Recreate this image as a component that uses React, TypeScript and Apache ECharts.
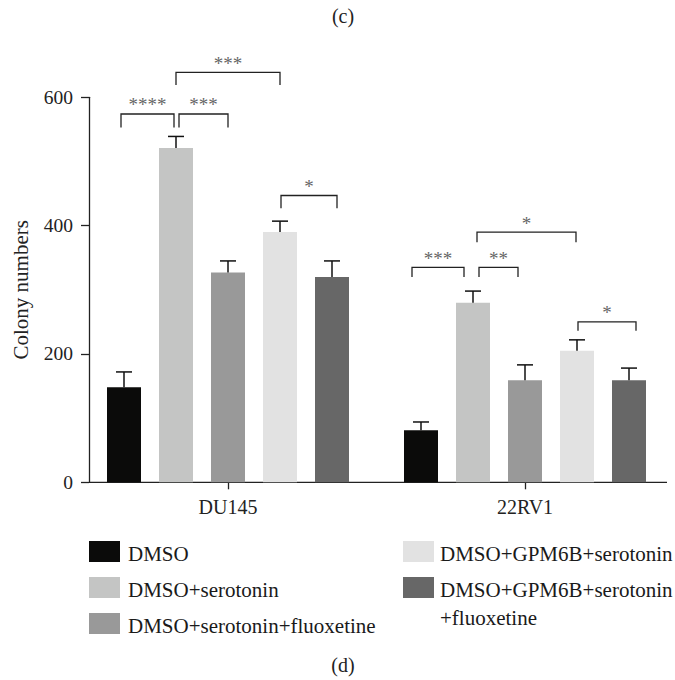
import React, { useEffect, useRef } from "react";
import * as echarts from "echarts";

// ---- data ----
const CATEGORIES = ["DU145", "22RV1"];
const GROUPS = [
  "DMSO",
  "DMSO+serotonin",
  "DMSO+serotonin+fluoxetine",
  "DMSO+GPM6B+serotonin",
  "DMSO+GPM6B+serotonin+fluoxetine",
];
const LEGEND_LABELS = [
  "DMSO",
  "DMSO+serotonin",
  "DMSO+serotonin+fluoxetine",
  "DMSO+GPM6B+serotonin",
  "DMSO+GPM6B+serotonin\n+fluoxetine",
];
// means per group: [DU145, 22RV1]
const MEAN_DMSO = [148, 81];
const MEAN_SER = [521, 280];
const MEAN_SER_FLX = [327, 159];
const MEAN_GPM = [390, 205];
const MEAN_GPM_FLX = [320, 159];
const MEANS = [MEAN_DMSO, MEAN_SER, MEAN_SER_FLX, MEAN_GPM, MEAN_GPM_FLX];
// upper error (SEM) per group: [DU145, 22RV1]
const SEM_DMSO = [24, 13];
const SEM_SER = [18, 18];
const SEM_SER_FLX = [18, 24];
const SEM_GPM = [17, 17];
const SEM_GPM_FLX = [25, 19];
const SEMS = [SEM_DMSO, SEM_SER, SEM_SER_FLX, SEM_GPM, SEM_GPM_FLX];
const Y_MIN = 0;
const Y_MAX = 600;
const Y_INTERVAL = 200;
// significance brackets: category, from-group, to-group, top value, leg-bottom value, label
const BRACKET_CAT = [0, 0, 0, 0, 1, 1, 1, 1];
const BRACKET_FROM = [0, 1, 1, 3, 0, 1, 1, 3];
const BRACKET_TO = [1, 2, 3, 4, 1, 2, 3, 4];
const BRACKET_TOP = [574, 574, 639, 447, 335, 335, 390, 250];
const BRACKET_BOTTOM = [553, 553, 619, 427, 320, 320, 374, 236];
const BRACKET_LABEL = ["****", "***", "***", "*", "***", "**", "*", "*"];

// ---- style ----
const COLORS = ["#0b0b0a", "#c4c5c4", "#999999", "#e2e2e2", "#676767"];
const FONT = "Liberation Serif, DejaVu Serif, serif";
const BAR_W = 34;
const BAR_GAP_PX = 18;
const STEP = BAR_W + BAR_GAP_PX;
const BRACKET_NUDGE = [
  [-3, -2],
  [3, 0],
  [0, 0],
  [1, 5],
  [-9, -9],
  [6, -7],
  [4, -1],
  [1, 7],
];

export default function App() {
  const ref = useRef<HTMLDivElement>(null);

  useEffect(() => {
    document.body.style.margin = "0";
    const chart = echarts.init(ref.current!, null, { renderer: "svg" });

    const barSeries = GROUPS.map((name, g) => ({
      name,
      type: "bar",
      data: MEANS[g],
      barWidth: BAR_W,
      barGap: (BAR_GAP_PX / BAR_W) * 100 + "%",
      itemStyle: { color: COLORS[g] },
      z: 2,
    }));

    const errSeries = GROUPS.map((name, g) => ({
      name: name + " SEM",
      type: "custom",
      z: 3,
      encode: { x: 0, y: [1, 2] },
      data: MEANS[g].map((m, ci) => [ci, m, m + SEMS[g][ci]]),
      renderItem: (params: any, api: any) => {
        const p0 = api.coord([api.value(0), api.value(1)]);
        const p1 = api.coord([api.value(0), api.value(2)]);
        const x = p0[0] + (g - 2) * STEP;
        return {
          type: "group",
          children: [
            {
              type: "line",
              shape: { x1: x, y1: p0[1], x2: x, y2: p1[1] },
              style: { stroke: "#111", lineWidth: 1.5 },
            },
            {
              type: "line",
              shape: { x1: x - 8, y1: p1[1], x2: x + 8, y2: p1[1] },
              style: { stroke: "#111", lineWidth: 1.5 },
            },
          ],
        };
      },
    }));

    const bracketSeries = {
      name: "significance",
      type: "custom",
      z: 4,
      encode: { x: 0, y: 1 },
      data: BRACKET_CAT.map((c, i) => [c, BRACKET_TOP[i]]),
      renderItem: (params: any, api: any) => {
        const i = params.dataIndex;
        const top = api.coord([BRACKET_CAT[i], BRACKET_TOP[i]]);
        const bot = api.coord([BRACKET_CAT[i], BRACKET_BOTTOM[i]]);
        const x1 = top[0] + (BRACKET_FROM[i] - 2) * STEP + BRACKET_NUDGE[i][0];
        const x2 = top[0] + (BRACKET_TO[i] - 2) * STEP + BRACKET_NUDGE[i][1];
        return {
          type: "group",
          children: [
            {
              type: "polyline",
              shape: {
                points: [
                  [x1, bot[1]],
                  [x1, top[1]],
                  [x2, top[1]],
                  [x2, bot[1]],
                ],
              },
              style: { stroke: "#222", lineWidth: 1.3, fill: null },
            },
            {
              type: "text",
              style: {
                text: BRACKET_LABEL[i],
                x: (x1 + x2) / 2,
                y: top[1] - 9,
                align: "center",
                verticalAlign: "middle",
                fontSize: 19,
                fontFamily: FONT,
                fill: "#666666",
              },
            },
          ],
        };
      },
    };

    const legendItems: any[] = [];
    const legendPos = [
      [89, 541, 128],
      [89, 577, 128],
      [89, 613, 128],
      [403, 541, 440],
      [403, 577, 440],
    ];
    LEGEND_LABELS.forEach((lab, g) => {
      const [sx, sy, tx] = legendPos[g];
      legendItems.push({
        type: "rect",
        shape: { x: sx, y: sy, width: 31, height: 21 },
        style: { fill: COLORS[g] },
      });
      legendItems.push({
        type: "text",
        x: tx,
        y: sy - 1,
        style: {
          text: lab,
          fontSize: 21,
          fontFamily: FONT,
          fill: "#1a1a1a",
          verticalAlign: "top",
          lineHeight: 28,
        },
      });
    });

    chart.setOption({
      animation: false,
      grid: { left: 79.5, right: 1.5, top: 97.3, bottom: 197.7 },
      xAxis: {
        type: "category",
        data: CATEGORIES,
        axisLine: { show: false },
        axisTick: {
          show: true,
          alignWithLabel: true,
          length: 7,
          lineStyle: { color: "#222", width: 1.3 },
        },
        axisLabel: {
          margin: 15,
          fontSize: 20,
          fontFamily: FONT,
          color: "#222",
        },
      },
      yAxis: {
        type: "value",
        min: Y_MIN,
        max: Y_MAX,
        interval: Y_INTERVAL,
        offset: -9.5,
        name: "Colony numbers",
        nameLocation: "middle",
        nameGap: 58,
        nameTextStyle: { fontSize: 21, fontFamily: FONT, color: "#222" },
        splitLine: { show: false },
        axisLine: { show: true, lineStyle: { color: "#222", width: 1.3 } },
        axisTick: { show: true, length: 8, lineStyle: { color: "#222", width: 1.3 } },
        axisLabel: { margin: 16, fontSize: 19.5, fontFamily: FONT, color: "#222" },
      },
      series: [...barSeries, ...errSeries, bracketSeries],
      graphic: [
        {
          type: "line",
          shape: { x1: 89, y1: 482.3, x2: 667, y2: 482.3 },
          style: { stroke: "#222", lineWidth: 1.3 },
        },
        {
          type: "text",
          x: 343,
          y: 16,
          style: {
            text: "(c)",
            fontSize: 20,
            fontFamily: FONT,
            fill: "#222",
            align: "center",
            verticalAlign: "middle",
          },
        },
        {
          type: "text",
          x: 343,
          y: 665,
          style: {
            text: "(d)",
            fontSize: 20,
            fontFamily: FONT,
            fill: "#222",
            align: "center",
            verticalAlign: "middle",
          },
        },
        ...legendItems,
      ],
    });

    return () => chart.dispose();
  }, []);

  return (
    <div
      ref={ref}
      style={{ position: "fixed", left: 0, top: 0, width: 675, height: 680, background: "#fff" }}
    />
  );
}
